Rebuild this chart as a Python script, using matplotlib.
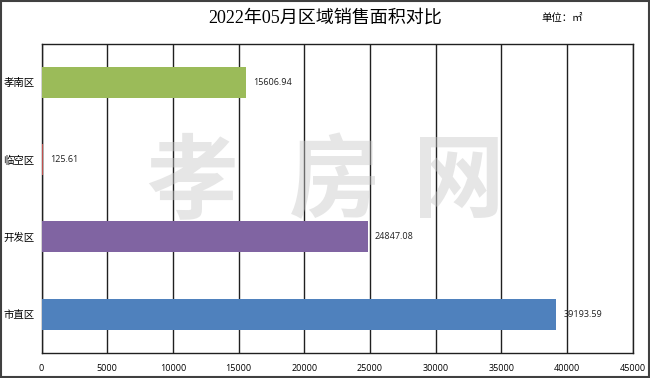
import matplotlib
matplotlib.use("Agg")
import matplotlib.pyplot as plt
from matplotlib.patches import Rectangle

plt.rcParams['font.family'] = ['Noto Sans CJK SC', 'DejaVu Sans']

# data, top to bottom as drawn
regions = ["市直区", "开发区", "临空区", "孝南区"]
areas = [39193.59, 24847.08, 125.61, 15606.94]
colors = ["#4F81BD", "#8064A2", "#C0504D", "#9BBB59"]
xticks = list(range(0, 45001, 5000))

title = "2022年05月区域销售面积对比"
unit = "单位：㎡"
watermark = ["孝", "房", "网"]

fig = plt.figure(figsize=(6.5, 3.78), dpi=100)
ax = fig.add_axes([41.5 / 650, 1 - 352.7 / 378, 591 / 650, 309 / 378])

ypos = range(len(regions))
ax.barh(ypos, areas, height=0.4, color=colors, zorder=3)
for y, v in zip(ypos, areas):
    ax.annotate(f"{v:.2f}", (v, y), xytext=(5, 0), textcoords="offset points",
                va="center", ha="left", fontsize=6.5, family=["Open Sans", "DejaVu Sans"],
                color="#202020", zorder=4)

ax.set_xlim(0, 45000)
ax.set_ylim(-0.5, 3.5)
ax.set_xticks(xticks)
ax.set_xticklabels([str(t) for t in xticks], fontsize=6.5, family=["Open Sans", "DejaVu Sans"])
ax.set_yticks(list(ypos))
ax.set_yticklabels(regions, fontsize=7.5)
ax.tick_params(axis="x", length=0, pad=8)
ax.tick_params(axis="y", length=0, pad=5)
ax.xaxis.grid(True, color="#202020", lw=1.0, zorder=1)
ax.set_axisbelow(True)
for s in ax.spines.values():
    s.set_color("#202020")
    s.set_linewidth(1.0)
    s.set_zorder(2)

# watermark
for x, ch in zip([192, 335, 459], watermark):
    fig.text(x / 650, 1 - 183 / 378, ch, fontsize=66, fontweight="bold",
             color="#c8c8c8", alpha=0.45, ha="center", va="center", zorder=5)

fig.text(0.5, 1 - 18 / 378, title, ha="center", va="center", fontsize=13,
         family=["Liberation Serif", "Noto Sans CJK SC"])
fig.text(562 / 650, 1 - 18 / 378, unit, ha="center", va="center", fontsize=7.5)

fig.patches.append(Rectangle((0.001, 0.002), 0.997, 0.995, transform=fig.transFigure,
                             fill=False, edgecolor="#404040", lw=1.5))

fig.savefig("out.png", dpi=100)
